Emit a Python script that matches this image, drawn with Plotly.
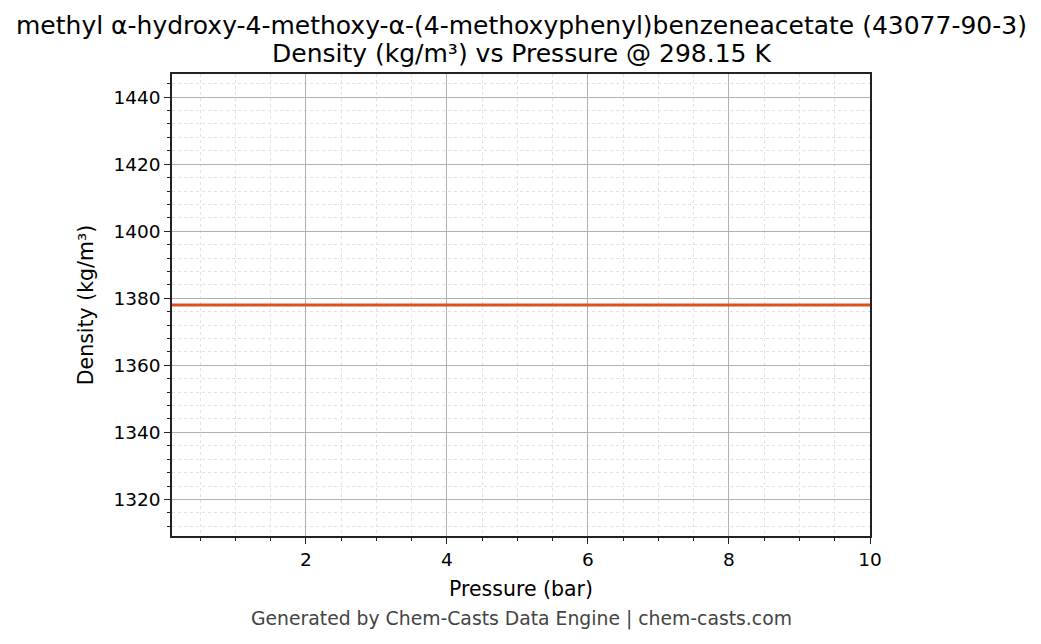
import numpy as np
import plotly.graph_objects as go

# Density vs pressure at 298.15 K (constant across range)
pressure_bar = [0.1, 1.0, 2.0, 3.0, 4.0, 5.0, 6.0, 7.0, 8.0, 9.0, 10.0]
density_kgm3 = [1378.0, 1378.0, 1378.0, 1378.0, 1378.0, 1378.0, 1378.0, 1378.0, 1378.0, 1378.0, 1378.0]

title_lines = [
    "methyl α-hydroxy-4-methoxy-α-(4-methoxyphenyl)benzeneacetate (43077-90-3)",
    "Density (kg/m³) vs Pressure @ 298.15 K",
]
footer = "Generated by Chem-Casts Data Engine | chem-casts.com"

FONT = "DejaVu Sans, sans-serif"

fig = go.Figure()
fig.add_trace(go.Scatter(
    x=pressure_bar, y=density_kgm3, mode="lines",
    line=dict(color="#DD5020", width=3.2),
    showlegend=False, hoverinfo="x+y",
))

ymid = float(np.mean(density_kgm3))
axis_common = dict(
    showline=True, linecolor="#222222", linewidth=1.5, mirror=True,
    ticks="outside", ticklen=6, tickwidth=1.2, tickcolor="#222222",
    showgrid=True, gridcolor="#b0b0b0", gridwidth=0.8,
    zeroline=False,
    tickfont=dict(family=FONT, size=18.5, color="#000000"),
    title_font=dict(family=FONT, size=20.5, color="#000000"),
)

fig.update_xaxes(
    range=[0.1, 10], tick0=0, dtick=2,
    title_text="Pressure (bar)", title_standoff=13,
    minor=dict(dtick=0.5, tick0=0, ticks="outside", ticklen=3.5, tickcolor="#222222",
               showgrid=True, gridcolor="#e2e2e2", gridwidth=0.6, griddash="dot"),
    **axis_common,
)
fig.update_yaxes(
    range=[ymid * 0.95, ymid * 1.05], tick0=0, dtick=20,
    title_text="Density (kg/m³)", title_standoff=14,
    minor=dict(dtick=4, tick0=0, ticks="outside", ticklen=3.5, tickcolor="#222222",
               showgrid=True, gridcolor="#e2e2e2", gridwidth=0.6, griddash="dot"),
    **axis_common,
)

# two title lines placed separately to match the tight line spacing
for txt, ypos in zip(title_lines, [1 + 48 / 462, 1 + 21 / 462]):
    fig.add_annotation(
        text=txt, xref="paper", yref="paper", x=0.5, y=ypos,
        xanchor="center", yanchor="middle", showarrow=False,
        font=dict(family=FONT, size=25, color="#000000"),
    )

fig.add_annotation(
    text=footer, xref="paper", yref="paper", x=0.5, y=-83 / 462,
    xanchor="center", yanchor="middle", showarrow=False,
    font=dict(family=FONT, size=18.8, color="#444444"),
)

fig.update_layout(
    width=1033, height=636,
    margin=dict(l=164, r=171, t=66, b=108),
    paper_bgcolor="white", plot_bgcolor="white",
)

fig.write_html("out.html")
